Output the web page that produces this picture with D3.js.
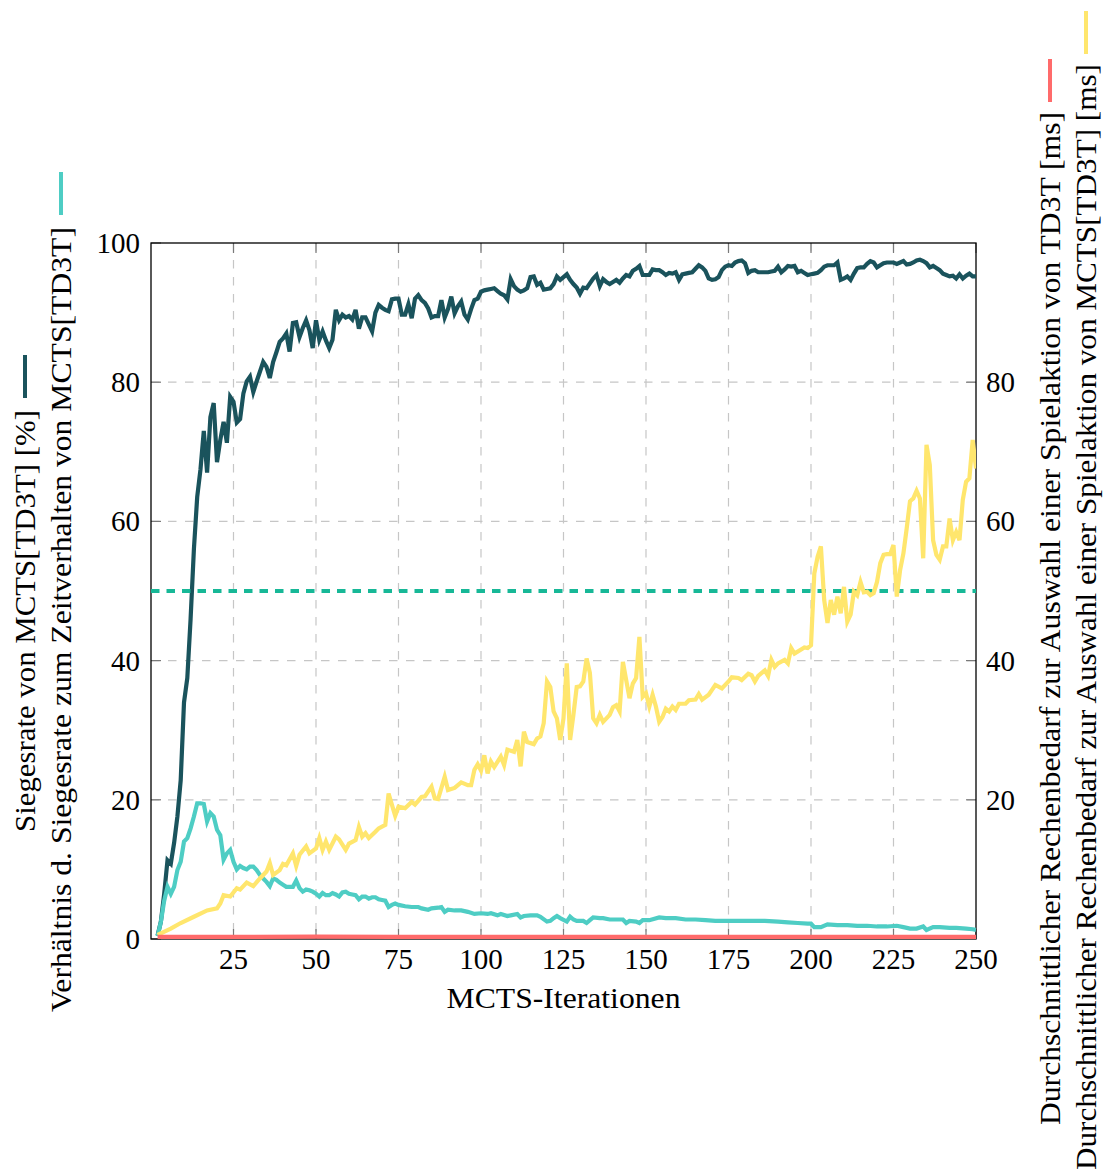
<!DOCTYPE html>
<html>
<head>
<meta charset="utf-8">
<script src="https://cdn.jsdelivr.net/npm/d3@7"></script>
<style>
  html, body { margin: 0; padding: 0; background: #fff; }
  #chart text { font-family: 'Liberation Serif', 'Times New Roman', 'Tinos', 'Noto Serif', 'DejaVu Serif', serif; }
</style>
</head>
<body>
<svg id="chart" width="1106" height="1176"></svg>
<script>
// --- data (iteration, value) ---
const xTicks = [25, 50, 75, 100, 125, 150, 175, 200, 225, 250];
const leftTicks = [0, 20, 40, 60, 80, 100];
const rightTicks = [20, 40, 60, 80];

// Siegesrate von MCTS[TD3T] [%]
const winRate = [[2,0.5],[3,2.5],[4,6.5],[5,11.3],[6,10.8],[7,13.8],[8,17.6],[9,22.8],[10,34],[11,37.5],[12,46],[13,56],[14,63.5],[15,67.5],[16,73],[17,67],[18,75],[19,77],[20,68.5],[21,71.7],[22,74.3],[23,71.3],[24,77.9],[25,77.2],[26,74.2],[27,74.7],[28,78.4],[29,80.1],[30,80.8],[31,78.6],[32,80.1],[33,81.5],[34,82.9],[35,82.2],[36,80.6],[37,82.9],[38,84.3],[39,85.8],[40,86.3],[41,87],[42,84.4],[43,88.5],[44,88.6],[45,86.5],[46,87.8],[47,88.9],[48,87.5],[49,84.9],[50,88.9],[51,86.1],[52,87.3],[53,86],[54,84.9],[55,86.1],[56,90.4],[57,88.9],[58,89.7],[59,89.3],[60,89.5],[61,89],[62,90.4],[63,87.7],[64,89.3],[65,89.3],[66,88.3],[67,87.3],[68,90],[69,91.1],[70,90.7],[71,90.4],[72,90.2],[73,91.9],[74,92],[75,92],[76,89.7],[77,89.7],[78,91.2],[79,89.2],[80,92],[81,92.5],[82,91.8],[83,91.4],[84,90.6],[85,89.3],[86,89.5],[87,89.5],[88,91.8],[89,89.3],[90,90.5],[91,92.3],[92,89.9],[93,90.9],[94,91.6],[95,89.7],[96,89],[97,90.5],[98,91.8],[99,92],[100,93],[101,93.2],[102,93.3],[103,93.4],[104,93.5],[105,93.1],[106,92.7],[107,92.5],[108,91.9],[109,94.8],[110,93.8],[111,93.3],[112,93],[113,93.2],[114,93.5],[115,95.1],[116,95.2],[117,94],[118,94.3],[119,93.3],[120,93.4],[121,93.5],[122,94.1],[123,95.2],[124,94.7],[125,95.1],[126,95.5],[127,94.7],[128,94.1],[129,93.6],[130,92.7],[131,93.6],[132,93.5],[133,94.2],[134,94.9],[135,95.4],[136,93.8],[137,94.8],[138,94.4],[139,94.1],[140,94.4],[141,94.7],[142,94.3],[143,94.9],[144,95.4],[145,95.2],[146,96],[147,96.3],[148,96.7],[149,95.4],[150,95.4],[151,95.4],[152,96.2],[153,96.1],[154,96.1],[155,95.8],[156,95.4],[157,95.7],[158,95.6],[159,95.8],[160,94.7],[161,95.5],[162,95.6],[163,95.7],[164,95.8],[165,96.3],[166,96.8],[167,96.5],[168,96],[169,94.9],[170,94.7],[171,94.8],[172,95.1],[173,96.1],[174,96.6],[175,96.8],[176,96.7],[177,97.2],[178,97.4],[179,97.5],[180,97.1],[181,95.7],[182,96],[183,96.1],[184,95.8],[185,95.8],[186,95.8],[187,95.8],[188,95.9],[189,96],[190,96.6],[191,95.8],[192,96.2],[193,96.7],[194,96.6],[195,96.7],[196,95.8],[197,96],[198,95.7],[199,95.4],[200,95.5],[201,95.6],[202,95.7],[203,96.1],[204,96.6],[205,96.8],[206,96.8],[207,96.8],[208,97.2],[209,94.7],[210,94.9],[211,95.2],[212,94.7],[213,95.6],[214,96.4],[215,96.5],[216,96.5],[217,97],[218,97.4],[219,97.2],[220,96.5],[221,96.8],[222,97.1],[223,97.2],[224,97.2],[225,97.2],[226,97],[227,97.2],[228,97.4],[229,96.9],[230,97],[231,97.2],[232,97.5],[233,97.6],[234,97.4],[235,97.1],[236,96.5],[237,96.7],[238,96.4],[239,96.1],[240,95.6],[241,95.4],[242,95.2],[243,95.3],[244,94.9],[245,95.5],[246,94.9],[247,95.3],[248,95.6],[249,95.2],[250,95.2]];

// Verhältnis d. Siegesrate zum Zeitverhalten von MCTS[TD3T]
const ratio = [[2,0.4],[3,2.5],[4,5.5],[5,7.5],[6,6.5],[7,7.5],[8,9.9],[9,11.1],[10,14],[11,14.5],[12,15.9],[13,17.6],[14,19.5],[15,19.5],[16,19.4],[17,16.9],[18,18.1],[19,17.6],[20,15.7],[21,14.9],[22,11.4],[23,12.3],[24,12.8],[25,11.1],[26,10],[27,10.5],[28,10.2],[29,10],[30,10.4],[31,10.4],[32,9.9],[33,9.2],[34,8.7],[35,8.2],[36,7.6],[37,8.7],[38,8.5],[39,8.1],[40,7.8],[41,7.5],[42,7.5],[43,7.5],[44,8.4],[45,7.3],[46,6.8],[47,7.1],[48,7],[49,6.8],[50,6.5],[51,6.1],[52,6.6],[53,6.3],[54,6.3],[55,6.6],[56,6.4],[57,6.1],[58,6.7],[59,6.8],[60,6.5],[61,6.4],[62,6.3],[63,5.7],[64,6.1],[65,6.1],[66,5.8],[67,6],[68,6],[69,5.7],[70,5.6],[71,5.5],[72,4.6],[73,4.9],[74,5.1],[75,4.9],[77,4.7],[79,4.6],[81,4.6],[82,4.4],[84,4.2],[85,4.4],[87,4.5],[88,4.6],[89,3.9],[90,4.2],[92,4.1],[94,4.1],[96,3.9],[98,3.6],[100,3.7],[102,3.6],[103,3.7],[105,3.4],[106,3.6],[108,3.3],[109,3.4],[111,3.6],[112,3.1],[113,3.3],[115,3.4],[117,3.4],[118,3.2],[120,2.5],[121,2.6],[122,3],[123,3.3],[124,3],[126,2.5],[127,3.2],[128,2.8],[129,2.6],[131,2.6],[132,2.3],[133,2.7],[134,3.1],[136,3],[137,3],[139,2.8],[141,2.8],[143,2.8],[144,2.3],[145,2.6],[147,2.5],[148,2.3],[149,2.7],[151,2.7],[154,3.1],[156,3],[159,3],[162,2.8],[165,2.8],[168,2.7],[171,2.6],[175,2.6],[180,2.6],[186,2.6],[190,2.5],[193,2.4],[196,2.3],[199,2.2],[200,2.2],[201,1.7],[203,1.7],[205,2.1],[208,2],[211,2],[214,1.9],[217,1.9],[220,1.8],[223,1.8],[226,1.9],[228,1.7],[230,1.5],[232,1.5],[234,1.8],[235,1.3],[237,1.7],[239,1.7],[242,1.6],[244,1.6],[247,1.5],[249,1.4],[250,1.3]];

// Rechenbedarf TD3T [ms]
const timeTD3T = [[2,0.3],[25,0.3],[50,0.35],[75,0.3],[100,0.3],[125,0.3],[150,0.3],[175,0.3],[200,0.3],[225,0.3],[250,0.3]];

// Rechenbedarf MCTS[TD3T] [ms]
const timeMCTS = [[2,0.6],[6,1.5],[9,2.3],[13,3.2],[17,4.1],[20,4.4],[21,5.1],[22,6.3],[24,6.1],[26,7.3],[27,7.1],[29,8.1],[31,7.6],[33,8.7],[35,9.7],[36,10.9],[37,9.2],[39,9.9],[40,10.8],[41,10.6],[43,12.3],[44,10.5],[45,12.1],[47,13.3],[48,12.3],[50,13],[51,14.5],[52,12.8],[53,14],[54,12.8],[56,14.7],[57,14.3],[59,12.8],[60,13.7],[62,14.2],[63,16.1],[64,14.7],[65,15.2],[66,14.5],[68,15.4],[69,15.9],[71,16.4],[72,20.9],[74,17.7],[75,19],[77,18.8],[79,19.7],[80,19.3],[82,20.4],[83,20.5],[85,21.9],[86,20.2],[87,20.1],[89,23.3],[90,21.4],[92,21.7],[94,22.5],[96,22.1],[97,22.1],[98,24.3],[99,25.1],[100,24.2],[101,26.4],[102,23.8],[103,25.5],[104,24.7],[106,26.2],[107,25],[108,27.2],[110,26.9],[111,28.6],[112,24.8],[113,29.8],[114,28.3],[116,28],[117,28.8],[118,29.1],[119,31],[120,37],[121,36.2],[122,32.7],[123,31.7],[124,28.6],[125,31.7],[126,39.6],[127,28.6],[128,32.2],[129,36.2],[130,36.3],[131,37],[132,40.3],[133,38.2],[134,31.7],[135,31],[136,32.2],[137,31.2],[139,32.2],[140,33.3],[141,33.6],[142,32.7],[143,39.8],[144,37.2],[145,34.6],[146,36.7],[147,37.5],[148,43.4],[149,34.8],[150,35.3],[151,33.4],[152,35.1],[153,33.4],[154,31.2],[155,31.9],[156,33.1],[157,32.7],[158,33.4],[159,32.9],[160,33.8],[162,33.8],[163,34.3],[165,34.4],[166,35.2],[167,34.4],[169,35.1],[170,35.8],[171,36.5],[173,36],[175,37],[176,37.6],[178,37.5],[179,37.2],[181,38.1],[182,37.9],[183,37],[184,37.8],[186,38.6],[187,37.8],[188,40.1],[189,39.1],[190,39.6],[192,40.1],[193,39.6],[194,41.8],[195,41],[197,41.6],[198,41.9],[199,41.8],[200,42.2],[201,52.5],[202,54.9],[203,56.4],[204,48.7],[205,45.4],[206,48.7],[207,46.6],[208,49.2],[209,46.8],[210,50.6],[211,45.6],[212,46.6],[213,49.9],[214,49.4],[215,51.3],[216,49.8],[217,49.9],[218,49.4],[219,49.7],[220,51.3],[221,54],[222,55.2],[223,55.3],[224,55.3],[225,56.6],[226,49.2],[227,53],[228,55.4],[229,59],[230,62.9],[231,63.3],[232,64.4],[233,63.3],[234,54.7],[235,71],[236,68.1],[237,57.3],[238,55.2],[239,54.5],[240,56.4],[241,56.4],[242,60.4],[243,57.3],[244,58.5],[245,57.3],[246,63.1],[247,65.7],[248,66.2],[249,71.7],[250,67.6]];

const referenceLevel = 50;

// --- layout ---
const colors = {
  dark: '#1a535c',
  turq: '#4ecdc4',
  red: '#ff6b6b',
  yellow: '#ffe66d',
  ref: '#17b897'
};
const plot = { left: 151, top: 243, right: 976, bottom: 939 };
const width = plot.right - plot.left;
const height = plot.bottom - plot.top;

const svg = d3.select('#chart');
const g = svg.append('g').attr('transform', `translate(${plot.left},${plot.top})`);

const x = d3.scaleLinear().domain([0, 250]).range([0, width]);
const yLeft = d3.scaleLinear().domain([0, 100]).range([height, 0]);
const yRight = d3.scaleLinear().domain([0, 100]).range([height, 0]);

// grid
g.append('g').selectAll('line')
  .data(xTicks.filter(d => d < 250))
  .enter().append('line')
  .attr('x1', d => x(d)).attr('x2', d => x(d))
  .attr('y1', 0).attr('y2', height)
  .attr('stroke', '#c6c6c6').attr('stroke-width', 1.2)
  .attr('stroke-dasharray', '8.5,8.5');

g.append('g').selectAll('line')
  .data(leftTicks.filter(d => d > 0 && d < 100))
  .enter().append('line')
  .attr('x1', 0).attr('x2', width)
  .attr('y1', d => yLeft(d)).attr('y2', d => yLeft(d))
  .attr('stroke', '#c6c6c6').attr('stroke-width', 1.2)
  .attr('stroke-dasharray', '8.5,8.5');

// inner tick marks
const tickLen = 10;
const tickColor = '#7a7a7a';
xTicks.forEach(t => {
  g.append('line').attr('x1', x(t)).attr('x2', x(t)).attr('y1', height).attr('y2', height - tickLen)
    .attr('stroke', tickColor).attr('stroke-width', 1.2);
  g.append('line').attr('x1', x(t)).attr('x2', x(t)).attr('y1', 0).attr('y2', tickLen)
    .attr('stroke', tickColor).attr('stroke-width', 1.2);
});
leftTicks.forEach(t => {
  g.append('line').attr('x1', 0).attr('x2', tickLen).attr('y1', yLeft(t)).attr('y2', yLeft(t))
    .attr('stroke', tickColor).attr('stroke-width', 1.2);
});
rightTicks.forEach(t => {
  g.append('line').attr('x1', width).attr('x2', width - tickLen).attr('y1', yRight(t)).attr('y2', yRight(t))
    .attr('stroke', tickColor).attr('stroke-width', 1.2);
});

// frame
g.append('rect').attr('width', width).attr('height', height)
  .attr('fill', 'none').attr('stroke', '#000').attr('stroke-width', 1.3);

// tick labels
const fontSize = 29;
g.append('g').selectAll('text').data(xTicks).enter().append('text')
  .attr('x', d => x(d)).attr('y', height + 30)
  .attr('text-anchor', 'middle').attr('font-size', fontSize)
  .text(d => d);

g.append('g').selectAll('text').data(leftTicks).enter().append('text')
  .attr('x', -11).attr('y', d => yLeft(d) + 10)
  .attr('text-anchor', 'end').attr('font-size', fontSize)
  .text(d => d);

g.append('g').selectAll('text').data(rightTicks).enter().append('text')
  .attr('x', width + 10).attr('y', d => yRight(d) + 10)
  .attr('text-anchor', 'start').attr('font-size', fontSize)
  .text(d => d);

// x label
g.append('text')
  .attr('x', width / 2).attr('y', height + 69)
  .attr('text-anchor', 'middle').attr('font-size', fontSize)
  .attr('textLength', 234).attr('lengthAdjust', 'spacingAndGlyphs')
  .text('MCTS-Iterationen');

// series
svg.append('defs').append('clipPath').attr('id', 'plot-clip')
  .append('rect').attr('width', width).attr('height', height);

const series = g.append('g').attr('clip-path', 'url(#plot-clip)');

function drawLine(data, yScale, color) {
  const line = d3.line().x(d => x(d[0])).y(d => yScale(d[1]));
  series.append('path')
    .datum(data)
    .attr('d', line)
    .attr('fill', 'none')
    .attr('stroke', color)
    .attr('stroke-width', 4.2);
}

drawLine(winRate, yLeft, colors.dark);
drawLine(ratio, yLeft, colors.turq);

series.append('line')
  .attr('x1', 0).attr('x2', width)
  .attr('y1', yLeft(referenceLevel)).attr('y2', yLeft(referenceLevel))
  .attr('stroke', colors.ref).attr('stroke-width', 3.8)
  .attr('stroke-dasharray', '8.5,7');

drawLine(timeMCTS, yRight, colors.yellow);
drawLine(timeTD3T, yRight, colors.red);

// rotated axis labels with legend stroke
const labels = [
  { text: 'Siegesrate von MCTS[TD3T] [%]', baseX: 35, startY: 832, len: 422, gap: 12, color: colors.dark },
  { text: 'Verhältnis d. Siegesrate zum Zeitverhalten von MCTS[TD3T]', baseX: 71, startY: 1012, len: 785, gap: 12, color: colors.turq },
  { text: 'Durchschnittlicher Rechenbedarf zur Auswahl einer Spielaktion von TD3T [ms]', baseX: 1060, startY: 1125, len: 1013, gap: 10, color: colors.red },
  { text: 'Durchschnittlicher Rechenbedarf zur Auswahl einer Spielaktion von MCTS[TD3T] [ms]', baseX: 1096, startY: 1170, len: 1106, gap: 10, color: colors.yellow }
];

labels.forEach(l => {
  svg.append('text')
    .attr('transform', `translate(${l.baseX},${l.startY}) rotate(-90)`)
    .attr('font-size', fontSize)
    .attr('textLength', l.len).attr('lengthAdjust', 'spacingAndGlyphs')
    .text(l.text);
  const y0 = l.startY - l.len - l.gap;
  svg.append('line')
    .attr('x1', l.baseX - 10).attr('x2', l.baseX - 10)
    .attr('y1', y0).attr('y2', y0 - 43)
    .attr('stroke', l.color).attr('stroke-width', 4);
});
</script>
</body>
</html>
